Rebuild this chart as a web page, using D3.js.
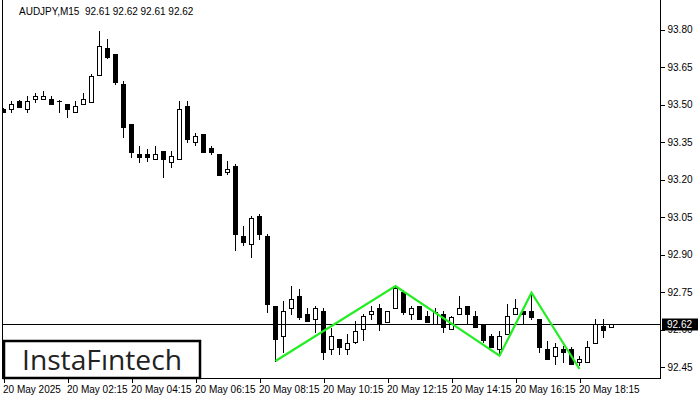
<!DOCTYPE html>
<html><head><meta charset="utf-8">
<script src="https://cdn.jsdelivr.net/npm/d3@7"></script>
<style>html,body{margin:0;padding:0;background:#fff;}svg{display:block;}</style>
</head><body>
<svg id="c" width="700" height="400"></svg>
<script>
const opens  = [93.48,93.481,93.514,93.481,93.521,93.521,93.521,93.514,93.501,93.471,93.501,93.511,93.618,93.725,93.702,93.582,93.422,93.302,93.302,93.281,93.314,93.271,93.281,93.494,93.351,93.382,93.325,93.302,93.231,93.254,92.974,92.941,93.055,92.974,92.694,92.574,92.685,92.734,92.662,92.641,92.674,92.521,92.561,92.521,92.551,92.601,92.661,92.685,92.631,92.685,92.751,92.661,92.694,92.654,92.622,92.661,92.601,92.661,92.694,92.654,92.622,92.574,92.521,92.581,92.661,92.674,92.674,92.641,92.521,92.494,92.522,92.521,92.471,92.471,92.545,92.614,92.61];
const highs  = [93.485,93.514,93.516,93.534,93.546,93.554,93.534,93.518,93.501,93.514,93.546,93.622,93.795,93.762,93.702,93.594,93.422,93.334,93.322,93.334,93.314,93.314,93.514,93.514,93.385,93.382,93.334,93.302,93.274,93.262,93.014,93.055,93.062,92.982,92.694,92.714,92.774,92.762,92.687,92.694,92.685,92.605,92.561,92.581,92.634,92.661,92.694,92.702,92.674,92.774,92.758,92.694,92.694,92.674,92.685,92.674,92.655,92.734,92.694,92.674,92.622,92.582,92.594,92.702,92.721,92.674,92.747,92.641,92.554,92.545,92.534,92.531,92.494,92.554,92.641,92.641,92.62];
const lows   = [93.468,93.471,93.489,93.471,93.511,93.521,93.501,93.471,93.451,93.471,93.501,93.511,93.618,93.685,93.581,93.371,93.291,93.271,93.275,93.281,93.211,93.251,93.281,93.351,93.338,93.311,93.301,93.218,93.221,92.918,92.938,92.891,92.961,92.671,92.474,92.511,92.661,92.641,92.634,92.591,92.481,92.501,92.501,92.501,92.545,92.558,92.641,92.598,92.631,92.685,92.661,92.641,92.641,92.631,92.622,92.591,92.601,92.661,92.622,92.611,92.55,92.531,92.502,92.581,92.661,92.622,92.641,92.511,92.481,92.461,92.471,92.461,92.458,92.471,92.545,92.571,92.61];
const closes = [93.47,93.502,93.491,93.514,93.534,93.535,93.501,93.514,93.481,93.494,93.521,93.614,93.734,93.691,93.591,93.411,93.311,93.29,93.29,93.302,93.281,93.294,93.482,93.361,93.374,93.311,93.311,93.218,93.242,92.981,92.951,93.045,92.981,92.701,92.561,92.674,92.722,92.651,92.634,92.685,92.511,92.574,92.531,92.545,92.594,92.654,92.674,92.622,92.674,92.765,92.671,92.685,92.641,92.631,92.671,92.611,92.651,92.685,92.661,92.611,92.558,92.531,92.574,92.654,92.685,92.661,92.651,92.531,92.481,92.531,92.511,92.461,92.481,92.531,92.621,92.598,92.62];
const xTickIndex  = [0,8,16,24,32,40,48,56,64,72];
const xTickLabels = ["20 May 2025","20 May 02:15","20 May 04:15","20 May 06:15","20 May 08:15","20 May 10:15","20 May 12:15","20 May 14:15","20 May 16:15","20 May 18:15"];
const yTicks = [93.80,93.65,93.50,93.35,93.20,93.05,92.90,92.75,92.60,92.45];
const patternIdx = [34,49,62,66,72];
const patternVal = [92.474,92.774,92.495,92.747,92.442];
const lastPrice = 92.62;
const title = "AUDJPY,M15  92.61 92.62 92.61 92.62";

const svg = d3.select("#c");
const font = "'Liberation Sans', Arial, sans-serif";
const x = d3.scaleLinear().domain([0, 76]).range([3.5, 611.5]);
const y = d3.scaleLinear().domain([92.45, 93.80]).range([367, 29.5]);
const R = 660.5, B = 378.5, L = 2.5;

svg.append("defs").append("clipPath").attr("id","pc").append("rect").attr("x",L).attr("y",0).attr("width",R-L).attr("height",B);
const plot = svg.append("g").attr("clip-path","url(#pc)");

const data = opens.map((o,i)=>({i,o,h:highs[i],l:lows[i],c:closes[i]}));
const snap = v => Math.round(v);

// wicks
plot.selectAll("line.w").data(data).join("line")
  .attr("x1",d=>x(d.i)).attr("x2",d=>x(d.i))
  .attr("y1",d=>snap(y(d.h))).attr("y2",d=>snap(y(d.l))+1)
  .attr("stroke","#000").attr("stroke-width",1).attr("shape-rendering","crispEdges");

// bodies
data.forEach(d=>{
  const t = snap(y(Math.max(d.o,d.c))), b = snap(y(Math.min(d.o,d.c)));
  const cx = x(d.i);
  if (b - t < 1) {
    plot.append("line").attr("x1",cx-2.5).attr("x2",cx+2.5).attr("y1",t+0.5).attr("y2",t+0.5)
      .attr("stroke","#000").attr("stroke-width",1).attr("shape-rendering","crispEdges");
  } else {
    plot.append("rect").attr("x",cx-2).attr("y",t+0.5).attr("width",4).attr("height",b-t)
      .attr("fill", d.c>=d.o ? "#fff" : "#000").attr("stroke","#000").attr("stroke-width",1)
      .attr("shape-rendering","crispEdges");
  }
});

// price line
const py = Math.floor(y(lastPrice)) + 0.5;
plot.append("line").attr("x1",0).attr("x2",R).attr("y1",py).attr("y2",py)
  .attr("stroke","#000").attr("stroke-width",1).attr("shape-rendering","crispEdges");

// pattern
const pts = patternIdx.map((k,j)=>[x(k), y(patternVal[j])]);
plot.append("path").attr("d", d3.line()(pts)).attr("fill","none")
  .attr("stroke","#22ee22").attr("stroke-width",2.2).attr("stroke-linejoin","miter");

// frame
svg.append("line").attr("x1",L).attr("x2",L).attr("y1",0).attr("y2",B).attr("stroke","#000").attr("shape-rendering","crispEdges");
svg.append("line").attr("x1",R).attr("x2",R).attr("y1",0).attr("y2",B).attr("stroke","#000").attr("shape-rendering","crispEdges");
svg.append("line").attr("x1",L).attr("x2",R).attr("y1",B).attr("y2",B).attr("stroke","#000").attr("shape-rendering","crispEdges");

// right axis
const ya = svg.append("g").attr("transform",`translate(${R},0)`)
  .call(d3.axisRight(y).tickValues(yTicks).tickFormat(d3.format(".2f")).tickSize(4).tickPadding(3));
ya.select(".domain").remove();
ya.selectAll("line").attr("stroke","#000").attr("shape-rendering","crispEdges");
ya.selectAll("text").attr("font-family",font).attr("font-size","10px").attr("fill","#000");

// last price label
svg.append("rect").attr("x",662).attr("y",py-6).attr("width",36).attr("height",12).attr("fill","#000");
svg.append("text").attr("x",667).attr("y",py).attr("dy","0.35em")
  .attr("font-family",font).attr("font-size","10px").attr("fill","#fff").text(lastPrice.toFixed(2));

// bottom axis
const xa = svg.append("g").attr("transform",`translate(0,${B})`)
  .call(d3.axisBottom(x).tickValues(xTickIndex).tickFormat((d,j)=>xTickLabels[j]).tickSize(4).tickPadding(3));
xa.select(".domain").remove();
xa.selectAll("line").attr("stroke","#000").attr("shape-rendering","crispEdges");
xa.selectAll("text").attr("font-family",font).attr("font-size","10px").attr("fill","#000")
  .attr("text-anchor","start").attr("dx","-1");

// title
svg.append("text").attr("x",19).attr("y",11).attr("dy","0.35em").attr("font-family",font)
  .attr("font-size","10px").attr("fill","#000").attr("xml:space","preserve").style("white-space","pre").text(title);

// logo
svg.append("rect").attr("x",4).attr("y",341).attr("width",196).attr("height",37).attr("fill","#fff")
  .attr("stroke","#000").attr("stroke-width",2.5);
svg.append("text").attr("x",102).attr("y",370).attr("text-anchor","middle")
  .attr("font-family","'Open Sans', 'Noto Sans', sans-serif").attr("font-size","28px").attr("fill","#222")
  .attr("textLength",160).attr("lengthAdjust","spacingAndGlyphs").text("InstaFıntech");
</script>
</body></html>
